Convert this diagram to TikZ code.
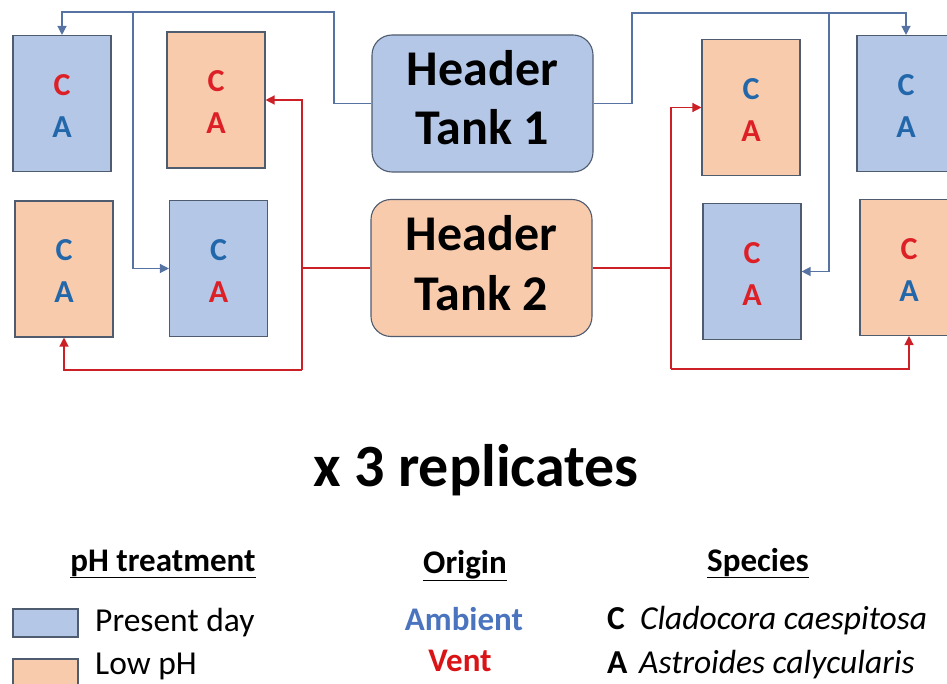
\documentclass[tikz,border=0pt]{standalone}
\usepackage{fontspec}
\setmainfont{Carlito}
\usetikzlibrary{arrows.meta}
\definecolor{pdfill}{HTML}{B4C7E7}
\definecolor{lpfill}{HTML}{F8CBAD}
\definecolor{edgecol}{HTML}{4F5B6E}
\definecolor{bline}{HTML}{5673A3}
\definecolor{rline}{HTML}{CC1F26}
\definecolor{lred}{HTML}{DD1F26}
\definecolor{lblue}{HTML}{2367AB}
\definecolor{ambc}{HTML}{4A74BE}
\definecolor{ventc}{HTML}{DA1416}
\newcommand\cabox[6]{%
  \node[#4] (#1) at (#2,#3) {};
  \node[letter, text=#5, anchor=base] (#1c) at ([yshift=8pt]#1.center) {C};
  \node[letter, text=#6, anchor=base] (#1a) at ([yshift=-34pt]#1.center) {A};
}
\begin{document}
\begin{tikzpicture}[x=1pt,y=-1pt,
  pdbox/.style={draw=edgecol, fill=pdfill, line width=1.1pt, minimum width=98pt, minimum height=136pt, inner sep=0pt},
  lpbox/.style={draw=edgecol, fill=lpfill, line width=1.1pt, minimum width=98pt, minimum height=136pt, inner sep=0pt},
  letter/.style={inner sep=0pt, font=\fontsize{32}{38}\selectfont\bfseries},
  tank/.style={draw=edgecol, line width=1.1pt, rounded corners=20pt, minimum width=221pt, minimum height=137pt, inner sep=0pt},
  tanktxt/.style={inner sep=0pt, anchor=base, font=\fontsize{50}{58}\selectfont\bfseries},
  bconn/.style={draw=bline, line width=1.3pt},
  rconn/.style={draw=rline, line width=1.3pt},
  arr/.style={-{Triangle[length=9pt,width=9pt]}},
  legtxt/.style={inner sep=0pt, anchor=base, font=\fontsize{33.5}{40}\selectfont},
  leghdr/.style={inner sep=0pt, anchor=base, font=\fontsize{33}{40}\selectfont\bfseries},
  swatch/.style={draw=edgecol, line width=1.1pt, minimum width=65pt, minimum height=28pt, inner sep=0pt}
]
\useasboundingbox (0,0) rectangle (947,684);
\clip (0,0) rectangle (947,684);

% header tanks
\node[tank, fill=pdfill] (ht1) at (482.5,103.5) {};
\node[tanktxt] (ht1a) at (482.5,86) {Header};
\node[tanktxt] (ht1b) at (482.5,145) {Tank 1};
\node[tank, fill=lpfill] (ht2) at (481.5,268) {};
\node[tanktxt] (ht2a) at (481.5,251) {Header};
\node[tanktxt] (ht2b) at (481.5,311) {Tank 2};

% tanks with corals
\cabox{tla}{62}{103.5}{pdbox}{lred}{lblue}
\cabox{tlb}{216}{100}{lpbox}{lred}{lred}
\cabox{bla}{64}{269}{lpbox}{lblue}{lblue}
\cabox{blb}{218.5}{268.5}{pdbox}{lblue}{lred}
\cabox{trb}{751}{107.5}{lpbox}{lblue}{lred}
\cabox{tra}{906}{103.5}{pdbox}{lblue}{lblue}
\cabox{brb}{752}{271.5}{pdbox}{lred}{lred}
\cabox{bra}{909}{267.5}{lpbox}{lred}{lblue}

% junction coordinates
\coordinate (bjl) at (334,12);
\coordinate (bsl) at (133,12);
\coordinate (bjr) at (632,13);
\coordinate (bsr) at (829,13);
\coordinate (rjl) at (302,268);
\coordinate (rbl) at (302,370);
\coordinate (rjr) at (671,268);
\coordinate (rbr) at (671,369);

% blue connectors
\draw[bconn, arr] (ht1.west) -| (bjl) -| (tla.north);
\draw[bconn, arr] (bsl) |- (blb.west);
\draw[bconn, arr] (ht1.east) -| (bjr) -| (tra.north);
\draw[bconn, arr] (bsr) |- (brb.east);

% red connectors
\draw[rconn] (ht2.west) -- (rjl);
\draw[rconn, arr] (rbl) |- (tlb.east);
\draw[rconn, arr] (rbl) -| (bla.south);
\draw[rconn] (ht2.east) -- (rjr);
\draw[rconn, arr] (rbr) |- (trb.west);
\draw[rconn, arr] (rbr) -| (bra.south);

% title
\node[inner sep=0pt, anchor=base, font=\fontsize{60}{70}\selectfont\bfseries] (title) at (476,486) {x 3 replicates};

% legend
\node[leghdr] (lh1) at (163,571) {\underline{pH treatment}};
\node[swatch, fill=pdfill] (sw1) at (45.5,623) {};
\node[swatch, fill=lpfill] (sw2) at (45.5,673) {};
\node[legtxt, anchor=base west] (lt1) at (95,631) {Present day};
\node[legtxt, anchor=base west] (lt2) at (95,674) {Low pH};

\node[leghdr] (lh2) at (465,573) {\underline{Origin}};
\node[leghdr, text=ambc] (lo1) at (464,630) {Ambient};
\node[leghdr, text=ventc] (lo2) at (460,671) {Vent};

\node[leghdr] (lh3) at (758,571) {\underline{Species}};
\node[legtxt, anchor=base west] (ls1) at (607,629) {\textbf{C}\hspace{0.45em}\textit{Cladocora caespitosa}};
\node[legtxt, anchor=base west] (ls2) at (607,673) {\textbf{A}\hspace{0.35em}\textit{Astroides calycularis}};
\end{tikzpicture}
\end{document}
